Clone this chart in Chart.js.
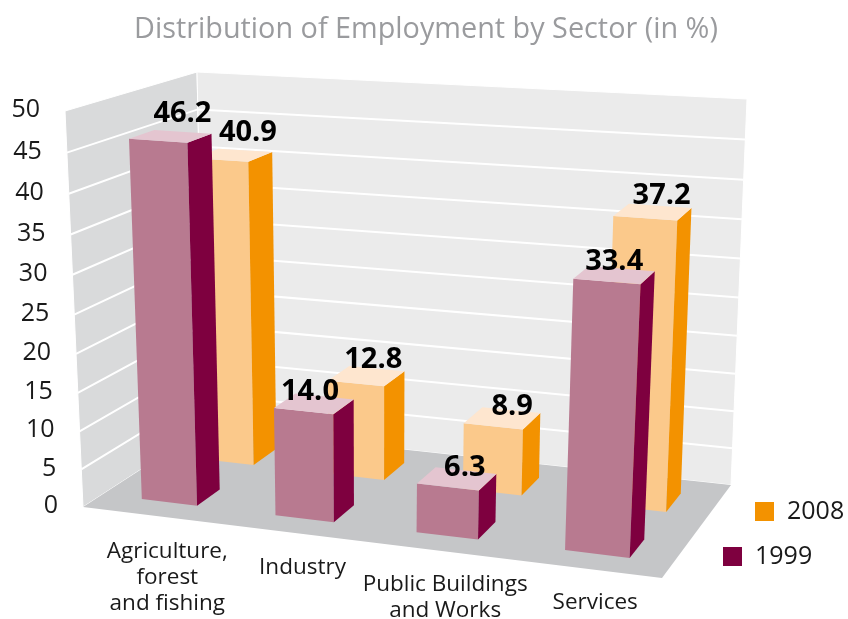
<!DOCTYPE html>
<html>
<head>
<meta charset="utf-8">
<title>Distribution of Employment by Sector</title>
<script src="https://cdn.jsdelivr.net/npm/chart.js@4"></script>
<style>
  html, body { margin: 0; background: #fff; }
  canvas { display: block; }
</style>
</head>
<body>
<canvas id="myChart" width="848" height="619"></canvas>
<script>
const categories = [["Agriculture,", "forest", "and fishing"], ["Industry"], ["Public Buildings", "and Works"], ["Services"]];
const values1999 = [46.2, 14.0, 6.3, 33.4];
const values2008 = [40.9, 12.8, 8.9, 37.2];
const yTicksMax = 50;
const yTicksStep = 5;

// corners of the 3d box on the page, [front, back] / [bottom, top] / [left, right]
const box = [
  [[[83, 507], [662, 578]], [[65, 111], [682, 152]]],
  [[[205, 428], [731, 485]], [[197, 72], [747, 99]]]
];
const depth = { "1999": [0.16, 0.36], "2008": [0.66, 0.86] };
const faces = {
  "1999": { front: "#b87a90", side: "#7e003f", top: "#e4c5d0" },
  "2008": { front: "#fbc98b", side: "#f39200", top: "#fee6cf" }
};
// hand placement of the value labels, relative to the middle of the bar's top
const nudge = {
  "1999": [[12, -23], [-4, -12], [8, -11], [0, -13]],
  "2008": [[15, -22], [7, -16], [10, -12], [9, -16]]
};
const font = "'Open Sans', sans-serif";

function lerp(a, b, t) { return a + (b - a) * t; }

// u across, v up, w into the picture, all 0 to 1
function wallPoint(u, v, w) {
  const vv = v - 0.056 * v * (1 - v);
  return [0, 1].map((i) => {
    const f = lerp(lerp(box[0][0][0][i], box[0][0][1][i], u), lerp(box[0][1][0][i], box[0][1][1][i], u), vv);
    const b = lerp(lerp(box[1][0][0][i], box[1][0][1][i], u), lerp(box[1][1][0][i], box[1][1][1][i], u), vv);
    return lerp(f, b, w);
  });
}

// bars get the perspective squeeze across the floor as well
function project(u, v, w) {
  return wallPoint(0.0034 + 0.896 * u + 0.104 * u * u, v, w);
}

function poly(ctx, pts, fill, stroke, lw) {
  ctx.beginPath();
  pts.forEach((p, i) => (i ? ctx.lineTo(p[0], p[1]) : ctx.moveTo(p[0], p[1])));
  ctx.closePath();
  if (fill) { ctx.fillStyle = fill; ctx.fill(); }
  if (stroke) { ctx.strokeStyle = stroke; ctx.lineWidth = lw || 1; ctx.stroke(); }
}

const box3d = {
  id: "box3d",
  beforeDatasetsDraw(chart) {
    const ctx = chart.ctx;
    const area = chart.chartArea;
    const yScale = chart.scales.y;

    // walls and floor
    poly(ctx, [wallPoint(0, 0, 0), wallPoint(0, 1, 0), wallPoint(0, 1, 1), wallPoint(0, 0, 1)], "#d9dadb", "#fff");
    poly(ctx, [wallPoint(0, 0, 1), wallPoint(0, 1, 1), wallPoint(1, 1, 1), wallPoint(1, 0, 1)], "#ebebeb", "#fff");
    poly(ctx, [wallPoint(0, 0, 0), wallPoint(1, 0, 0), wallPoint(1, 0, 1), wallPoint(0, 0, 1)], "#c5c6c8");
    ctx.strokeStyle = "#fff";
    ctx.lineWidth = 2;
    yScale.ticks.forEach((t) => {
      const v = (area.bottom - yScale.getPixelForValue(t.value)) / area.height;
      const a = wallPoint(0, v, 0), b = wallPoint(0, v, 1), c = wallPoint(1, v, 1);
      if (t.value > 0 && t.value < yTicksMax) {
        ctx.beginPath();
        ctx.moveTo(a[0], a[1]);
        ctx.lineTo(b[0], b[1]);
        ctx.lineTo(c[0], c[1]);
        ctx.stroke();
      }
      ctx.fillStyle = "#1a1a1a";
      ctx.font = "25px " + font;
      ctx.textAlign = "right";
      ctx.textBaseline = "middle";
      ctx.fillText(t.value, a[0] - 25, a[1] - 1);
    });

    // 2008 stands behind 1999, so it goes first
    const order = [1, 0];
    const labels = [];
    order.forEach((d) => {
      const name = chart.data.datasets[d].label;
      const [w0, w1] = depth[name];
      const c = faces[name];
      chart.getDatasetMeta(d).data.forEach((el, i) => {
        const u0 = (el.x - el.width / 2 - area.left) / area.width;
        const u1 = (el.x + el.width / 2 - area.left) / area.width;
        const v0 = (area.bottom - el.base) / area.height;
        const v1 = (area.bottom - el.y) / area.height;
        poly(ctx, [project(u0, v0, w0), project(u1, v0, w0), project(u1, v1, w0), project(u0, v1, w0)], c.front);
        poly(ctx, [project(u1, v0, w0), project(u1, v0, w1), project(u1, v1, w1), project(u1, v1, w0)], c.side);
        poly(ctx, [project(u0, v1, w0), project(u1, v1, w0), project(u1, v1, w1), project(u0, v1, w1)], c.top);
        const mid = project((u0 + u1) / 2, v1, (w0 + w1) / 2);
        labels.push([chart.data.datasets[d].data[i].toFixed(1), mid[0] + nudge[name][i][0], mid[1] + nudge[name][i][1]]);
      });
    });

    ctx.fillStyle = "#000";
    ctx.font = "bold 29px " + font;
    ctx.textAlign = "center";
    ctx.textBaseline = "middle";
    labels.forEach((l) => ctx.fillText(l[0], l[1], l[2]));

    // category names hang below the front of the 1999 bars
    const xScale = chart.scales.x;
    ctx.fillStyle = "#1a1a1a";
    ctx.font = "22.5px " + font;
    chart.data.labels.forEach((lines, i) => {
      const p = project((xScale.getPixelForValue(i) - area.left) / area.width, 0, depth["1999"][0]);
      lines.forEach((line, n) => ctx.fillText(line, p[0] - 2, p[1] + 49 + n * 26));
    });

    // legend, stepped along the right edge of the floor
    const legendSpots = { "2008": [755, 502], "1999": [723, 547] };
    ctx.font = "25px " + font;
    ctx.textAlign = "left";
    chart.data.datasets.forEach((ds) => {
      const s = legendSpots[ds.label];
      ctx.fillStyle = ds.backgroundColor;
      ctx.fillRect(s[0], s[1], 19, 19);
      ctx.fillStyle = "#1a1a1a";
      ctx.fillText(ds.label, s[0] + 32, s[1] + 10);
    });
    return false;
  }
};

new Chart(document.getElementById("myChart").getContext("2d"), {
  type: "bar",
  plugins: [box3d],
  data: {
    labels: categories,
    datasets: [
      { label: "1999", data: values1999, backgroundColor: "#7e003f", categoryPercentage: 0.42, barPercentage: 1 },
      { label: "2008", data: values2008, backgroundColor: "#f39200", categoryPercentage: 0.42, barPercentage: 1 }
    ]
  },
  options: {
    responsive: false,
    animation: false,
    grouped: false,
    layout: { padding: { left: 4, right: 0, bottom: 116, top: 0 } },
    plugins: {
      legend: { display: false },
      tooltip: { enabled: false },
      title: {
        display: true,
        text: "Distribution of Employment by Sector (in %)",
        color: "#9a9b9e",
        font: { family: font, size: 28.8, weight: "normal" },
        padding: { top: 13, bottom: 57 }
      }
    },
    scales: {
      x: { grid: { display: false }, border: { display: false }, ticks: { display: false } },
      y: {
        min: 0,
        max: yTicksMax,
        grid: { display: false },
        border: { display: false },
        ticks: { display: false, stepSize: yTicksStep }
      }
    }
  }
});
</script>
</body>
</html>
